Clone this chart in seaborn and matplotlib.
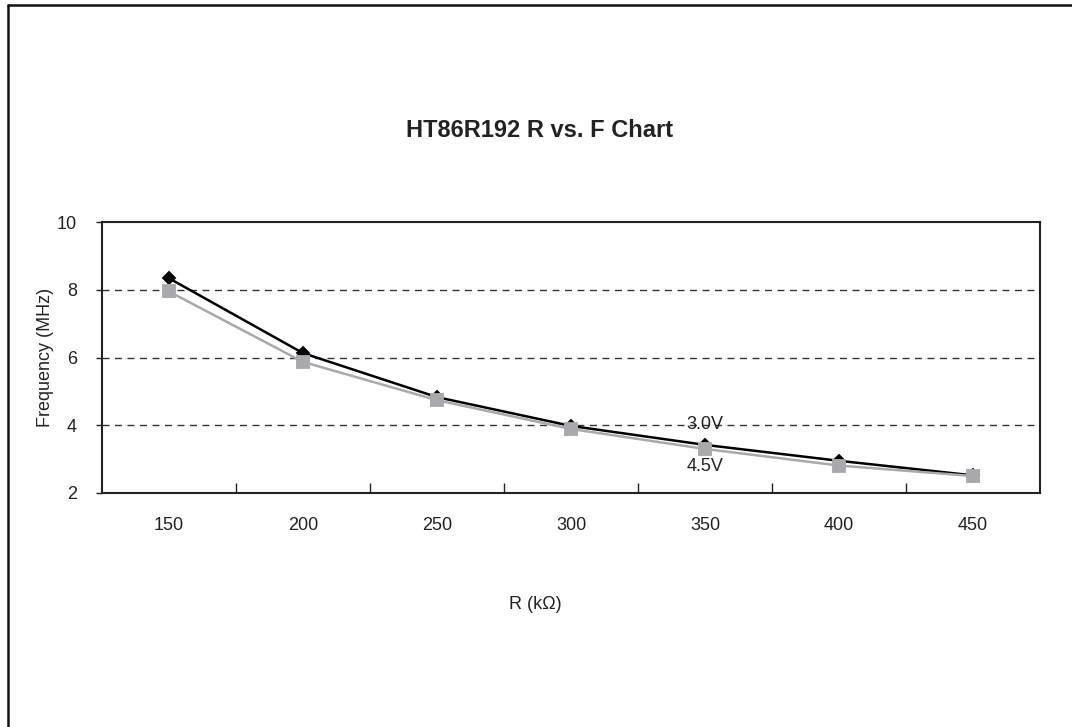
import pandas as pd
import seaborn as sns
import matplotlib.pyplot as plt
from matplotlib.lines import Line2D
from matplotlib.ticker import FixedLocator

r_values = ["150", "200", "250", "300", "350", "400", "450"]
f_30v = [8.34, 6.13, 4.83, 3.98, 3.42, 2.95, 2.52]
f_45v = [7.95, 5.87, 4.74, 3.89, 3.30, 2.81, 2.50]
series_names = ["3.0V", "4.5V"]

df30 = pd.DataFrame({"R": r_values, "F": f_30v})
df45 = pd.DataFrame({"R": r_values, "F": f_45v})

sns.set_style("white")
plt.rcParams["font.family"] = ["Liberation Sans", "DejaVu Sans"]

fig = plt.figure(figsize=(10.72, 7.27), dpi=100)
ax = fig.add_axes([0.0951, 0.3219, 0.8751, 0.3727])

sns.pointplot(data=df30, x="R", y="F", order=r_values, color="black",
              markers="D", markersize=6, linewidth=1.8, errorbar=None, ax=ax)
sns.pointplot(data=df45, x="R", y="F", order=r_values, color="#a7a9ac",
              markers="s", markersize=9, linewidth=1.8, errorbar=None, ax=ax)

ax.set_xlim(-0.5, len(r_values) - 0.5)
ax.set_ylim(2, 10)
ax.set_yticks([2, 4, 6, 8, 10])
for y in [4, 6, 8]:
    ax.axhline(y, color="#333333", lw=1.0, ls=(0, (5, 4)), zorder=0)

ax.xaxis.set_minor_locator(FixedLocator([i + 0.5 for i in range(len(r_values) - 1)]))
ax.tick_params(axis="x", which="major", length=0, labelsize=13, pad=17, colors="#222222")
ax.tick_params(axis="x", which="minor", direction="in", length=7, width=1, color="#222222")
ax.tick_params(axis="y", which="major", direction="out", length=4, width=1,
               labelsize=13, pad=14, colors="#222222")
ax.tick_params(axis="both", bottom=True, left=True)
ax.xaxis.set_tick_params(which="minor", bottom=True)
for sp in ax.spines.values():
    sp.set_visible(True)
    sp.set_color("#222222")
    sp.set_linewidth(1.5)

ax.set_xlabel("")
ax.set_ylabel("Frequency (MHz)", fontsize=13, color="#222222", labelpad=2)

ax.text(4, f_30v[4] + 0.6, series_names[0], ha="center", va="center", fontsize=13, color="#222222")
ax.text(4, f_45v[4] - 0.52, series_names[1], ha="center", va="center", fontsize=13, color="#222222")

fig.text(0.5037, 0.821, "HT86R192 R vs. F Chart", ha="center", va="center",
         fontsize=17, fontweight="bold", color="#222222")
fig.text(0.499, 0.168, "R (k\u03a9)", ha="center", va="center", fontsize=13, color="#222222")

# outer chart border: only top and left edges are visible in the picture
fig.add_artist(Line2D([0.007, 1.0], [0.9935, 0.9935], transform=fig.transFigure,
                      color="#111111", lw=1.8))
fig.add_artist(Line2D([0.007, 0.007], [0.0, 0.9935], transform=fig.transFigure,
                      color="#111111", lw=1.8))

fig.savefig("out.png", dpi=100)
